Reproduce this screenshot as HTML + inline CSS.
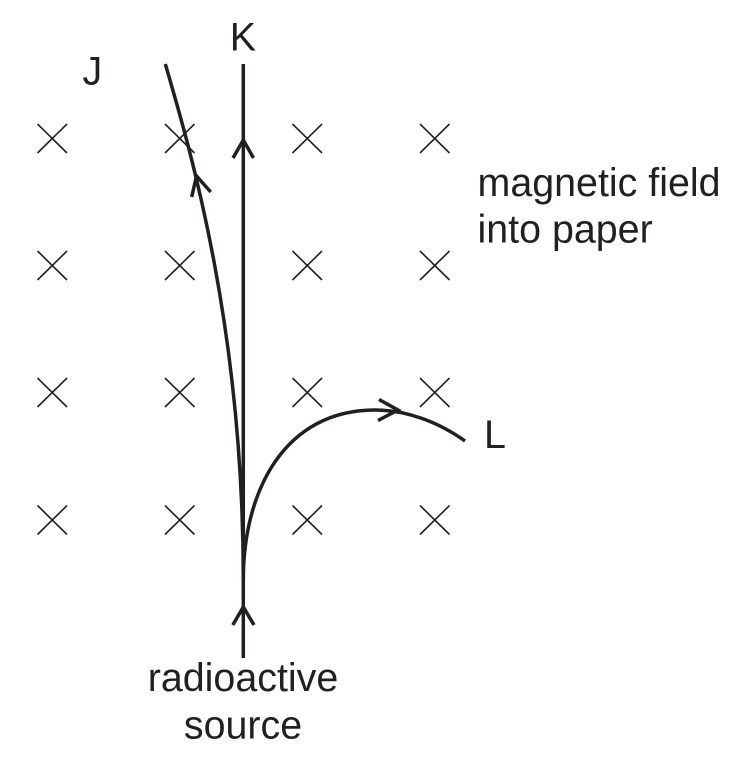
<!DOCTYPE html>
<html>
<head>
<meta charset="utf-8">
<style>
html,body{margin:0;padding:0;background:#fff;width:732px;height:758px;overflow:hidden}
svg{display:block}
text{font-family:"Liberation Sans",Arial,sans-serif;font-size:39.4px;fill:#231f20}
</style>
</head>
<body>
<svg width="732" height="758" viewBox="0 0 732 758" xmlns="http://www.w3.org/2000/svg">
<g stroke="#231f20" stroke-width="1.6" fill="none">
<path d="M37.5 124L67 153M67 124L37.5 153"/>
<path d="M165 124L194.5 153M194.5 124L165 153"/>
<path d="M292.5 124L322 153M322 124L292.5 153"/>
<path d="M420 124L449.5 153M449.5 124L420 153"/>
<path d="M37.5 251L67 280M67 251L37.5 280"/>
<path d="M165 251L194.5 280M194.5 251L165 280"/>
<path d="M292.5 251L322 280M322 251L292.5 280"/>
<path d="M420 251L449.5 280M449.5 251L420 280"/>
<path d="M37.5 378L67 407M67 378L37.5 407"/>
<path d="M165 378L194.5 407M194.5 378L165 407"/>
<path d="M292.5 378L322 407M322 378L292.5 407"/>
<path d="M420 378L449.5 407M449.5 378L420 407"/>
<path d="M37.5 505.5L67 534.5M67 505.5L37.5 534.5"/>
<path d="M165 505.5L194.5 534.5M194.5 505.5L165 534.5"/>
<path d="M292.5 505.5L322 534.5M322 505.5L292.5 534.5"/>
<path d="M420 505.5L449.5 534.5M449.5 505.5L420 534.5"/>
</g>
<g stroke="#231f20" stroke-width="3.5" fill="none">
<path d="M243.3 64V658"/>
<path d="M233 158L243.3 140L253.5 158"/>
<path d="M232.8 625L243.3 607L254 625"/>
<path d="M165.3 64C191 152 243.3 330 243.3 580"/>
<path d="M191.7 197L196.5 176L210.7 192"/>
<path d="M243.3 580C243.3 490 285 410 375 410C405 410 437 421 465 441"/>
<path d="M379 399.5L398 410L378 420.5"/>
</g>
<text x="229.7" y="50.5">K</text>
<text x="82.5" y="84.5">J</text>
<text x="484" y="448">L</text>
<text x="477.5" y="196">magnetic field</text>
<text x="477.5" y="242.5">into paper</text>
<text x="243" y="691" text-anchor="middle">radioactive</text>
<text x="243" y="738.5" text-anchor="middle">source</text>
</svg>
</body>
</html>
